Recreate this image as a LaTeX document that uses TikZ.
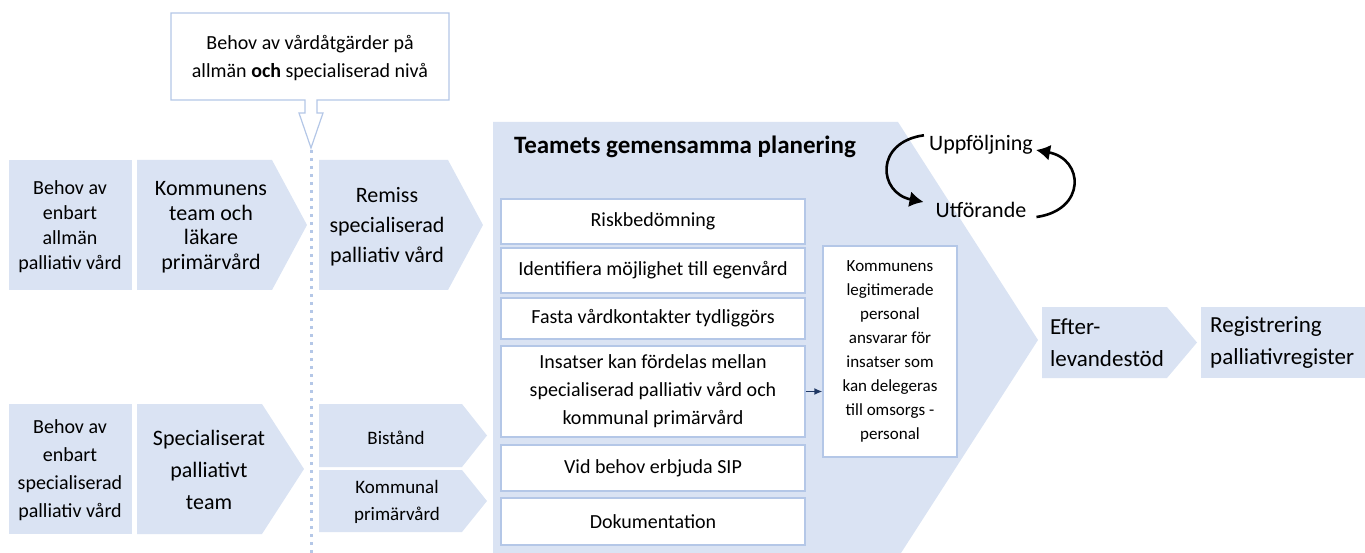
\documentclass[tikz,border=0pt]{standalone}
\usepackage{fontspec}
\setmainfont{Carlito}
\usepackage{tikz}
\usetikzlibrary{arrows,arrows.meta}
\definecolor{ljusbla}{HTML}{DAE3F3}
\definecolor{kant}{HTML}{B4C7E7}
\definecolor{mork}{HTML}{1F3864}
\tikzset{
	steg/.style={fill=ljusbla},
	txt/.style={align=center, inner sep=0pt, text=black},
	ruta/.style={draw=kant, line width=1.3pt, fill=white, minimum width=304pt, inner sep=0pt, align=center, font=\fontsize{20}{28}\selectfont},
	cykel/.style={-{Latex[length=14pt,width=16pt]}, line width=2.6pt, black},
}

\begin{document}
\begin{tikzpicture}[>=latex, x=1pt, y=-1pt]
		\useasboundingbox (0,0) rectangle (1365,553);
		% vänstra kolumnen
		\fill [steg] (9,160) rectangle (132,290);
		\fill [steg] (137,160) -- (272,160) -- (307,225) -- (272,290) -- (137,290) -- cycle;
		\fill [steg] (9,404) rectangle (132,534);
		\fill [steg] (137,404) -- (262,404) -- (304,469) -- (262,534) -- (137,534) -- cycle;
		\node [txt, font=\fontsize{20}{25}\selectfont] (allman) at (70,227) {Behov av\\enbart\\allmän\\palliativ vård};
		\node [txt, font=\fontsize{22}{24.5}\selectfont] (kommteam) at (211,227) {Kommunens\\team och\\läkare\\primärvård};
		\node [txt, font=\fontsize{20}{28}\selectfont] (special) at (70,470) {Behov av\\enbart\\specialiserad\\palliativ vård};
		\node [txt, font=\fontsize{22}{32}\selectfont] (palteam) at (209,470) {Specialiserat\\palliativt\\team};
		% nivå och streckad gräns
		\filldraw [draw=kant, fill=white, line width=1.2pt] (171,13) -- (449,13) -- (449,100) -- (317,100) -- (317,113) -- (323,113) -- (311,148) -- (299,113) -- (305,113) -- (305,100) -- (171,100) -- cycle;
		\node [txt, font=\fontsize{20}{28}\selectfont] (niva) at (310,58) {Behov av vårdåtgärder på\\allmän \textbf{och} specialiserad nivå};
		\coordinate (grans) at (311,150);
		\coordinate (gransslut) at (311,553);
		\draw [kant, line width=3pt, dash pattern=on 3pt off 5pt] (grans) -- (gransslut);
		% mittkolumnen
		\fill [steg] (319,160) -- (448,160) -- (483,225) -- (448,290) -- (319,290) -- cycle;
		\fill [steg] (319,404) -- (462,404) -- (487,435.5) -- (462,467) -- (319,467) -- cycle;
		\fill [steg] (319,470) -- (462,470) -- (487,501) -- (462,532) -- (319,532) -- cycle;
		\node [txt, font=\fontsize{22}{30}\selectfont] (remiss) at (387,227) {Remiss\\specialiserad\\palliativ vård};
		\node [txt, font=\fontsize{19}{27}\selectfont] (bistand) at (396,438) {Bistånd};
		\node [txt, font=\fontsize{19}{27}\selectfont] (kommprim) at (397,502) {Kommunal\\primärvård};
		% teamets planering
		\fill [steg] (493,122) -- (898,122) -- (1038,340) -- (901,553) -- (493,553) -- cycle;
		\node [txt, font=\bfseries\fontsize{25}{30}\selectfont] (rubrik) at (685,147) {Teamets gemensamma planering};
		\node [ruta, minimum height=45pt] (risk) at (653,221.5) {Riskbedömning};
		\node [ruta, minimum height=45pt] (egen) at (653,270.5) {Identifiera möjlighet till egenvård};
		\node [ruta, minimum height=41pt] (fasta) at (653,318.5) {Fasta vårdkontakter tydliggörs};
		\node [ruta, minimum height=91pt] (insats) at (653,391.5) {Insatser kan fördelas mellan\\specialiserad palliativ vård och\\kommunal primärvård};
		\node [ruta, minimum height=46pt] (sip) at (653,468) {Vid behov erbjuda SIP};
		\node [ruta, minimum height=47pt] (dok) at (653,521.5) {Dokumentation};
		\node [ruta, minimum width=134pt, minimum height=211pt, font=\fontsize{17}{24}\selectfont] (legit) at (890,351.5) {Kommunens\\legitimerade\\personal\\ansvarar för\\insatser som\\kan delegeras\\till omsorgs -\\personal};
		\draw [-{Latex[length=8pt,width=7pt]}, mork, line width=1.4pt] (insats.east) -- (insats.east -| legit.west);
		% uppföljning och utförande
		\node [txt, font=\fontsize{22}{26}\selectfont] (upp) at (981,145) {Uppföljning};
		\node [txt, font=\fontsize{22}{26}\selectfont] (utf) at (981,210) {Utförande};
		\draw [cykel] ([xshift=-5pt]upp.north west) .. controls +(-50,7) and +(-45,-9) .. ([xshift=-12pt,yshift=8pt]utf.west);
		\draw [cykel] ([xshift=10pt,yshift=-7pt]utf.east) .. controls +(50,-7) and +(48,9) .. ([xshift=3pt,yshift=-5pt]upp.east);
		% efterlevande och register
		\fill [steg] (1042,307) -- (1167,307) -- (1197,342.5) -- (1167,378) -- (1042,378) -- cycle;
		\fill [steg] (1201,307) rectangle (1365,378);
		\node [txt, align=left, anchor=west, font=\fontsize{23}{32}\selectfont] (efter) at (1050,343) {Efter-\\levandestöd};
		\node [txt, align=left, anchor=west, font=\fontsize{23}{32}\selectfont] (register) at (1210,343) {Registrering\\palliativregister};
	\end{tikzpicture}
\end{document}
